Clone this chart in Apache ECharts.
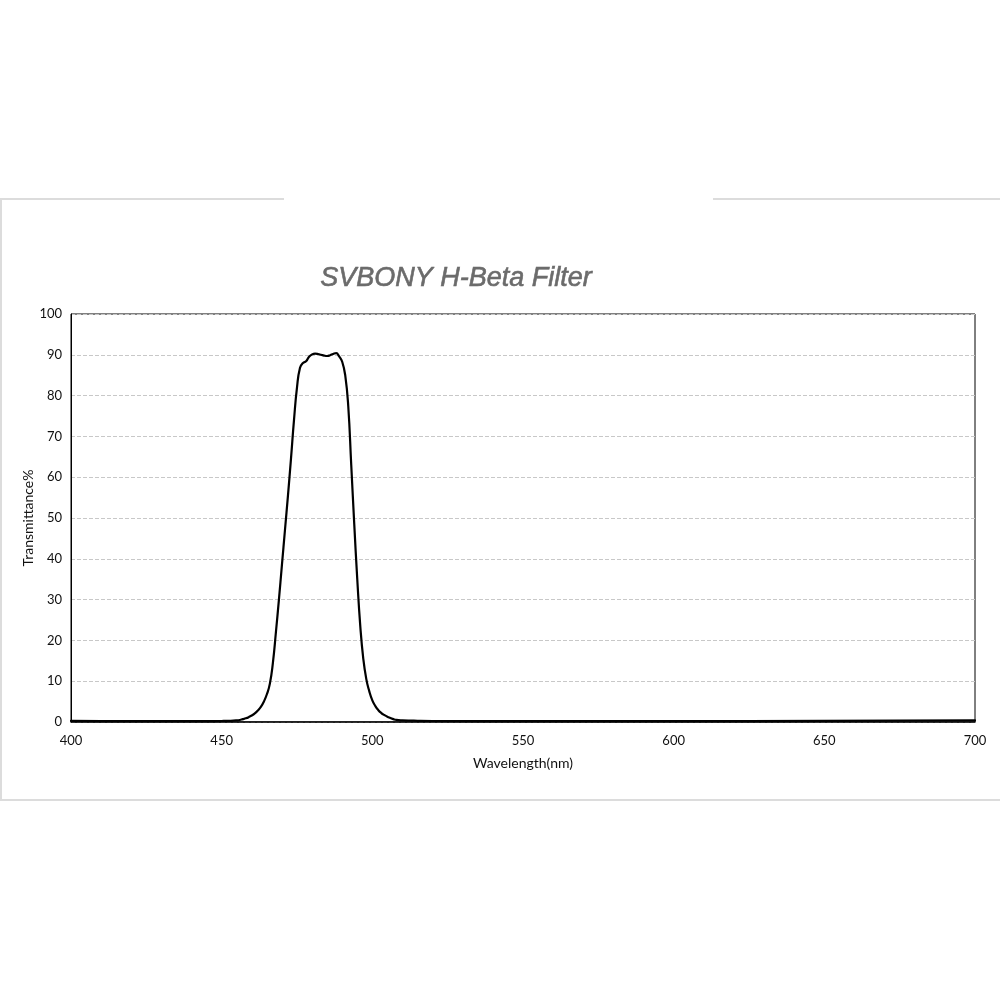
<!DOCTYPE html>
<html>
<head>
<meta charset="utf-8">
<script src="https://cdn.jsdelivr.net/npm/echarts@6/dist/echarts.min.js"></script>
<style>html,body{margin:0;padding:0;background:#fff}#c{width:1000px;height:1000px}</style>
</head>
<body>
<div id="c"></div>
<script>
const titleText = 'SVBONY H-Beta Filter';
const xName = 'Wavelength(nm)';
const yName = 'Transmittance%';
const wavelengths = [400,420,440,450,453,455,456,457,458,459,460,461,462,463,464,465,466,467,468,469,470,471,472,473,474,475,476,477,478,479,480,481,482,483,484,485,486,487,488,489,490,491,492,493,494,495,496,497,498,499,500,501,502,503,504,505,506,507,508,510,515,520,550,600,650,700];
const transmittance = [0.3,0.2,0.2,0.25,0.3,0.4,0.5,0.7,0.9,1.2,1.6,2.1,2.8,3.7,5.0,6.8,9.4,14.5,22,30,38.5,47,55.5,64.5,74,82,86.8,88,88.4,89.5,90.1,90.3,90.2,90.0,89.8,89.7,89.9,90.2,90.4,89.6,88.3,85,77.5,63,48.5,35,23.5,15.5,10.5,7.5,5.3,3.9,2.9,2.2,1.7,1.3,1.0,0.7,0.5,0.4,0.3,0.25,0.2,0.2,0.3,0.4];
const xTicks = [400,450,500,550,600,650,700];
const yTicks = [0,10,20,30,40,50,60,70,80,90,100];

const data = wavelengths.map((w,i)=>[w, transmittance[i]]);
const chart = echarts.init(document.getElementById('c'));
const labelFont = 'Lato, "Open Sans", sans-serif';
chart.setOption({
  animation:false,
  backgroundColor:'#fff',
  title:{text:titleText,left:451,top:260,textAlign:'center',
    textStyle:{fontFamily:'"Liberation Sans", Arial, sans-serif',fontStyle:'italic',fontWeight:'normal',fontSize:27,color:'#6b6b6b',
      textBorderColor:'#6b6b6b',textBorderWidth:0.6}},
  grid:{left:71,right:25,top:314,bottom:278,show:true,borderColor:'#000',borderWidth:1,backgroundColor:'transparent'},
  xAxis:{type:'value',min:xTicks[0],max:xTicks[xTicks.length-1],interval:50,
    name:xName,nameLocation:'middle',nameGap:34,nameMoveOverlap:false,
    nameTextStyle:{fontFamily:labelFont,fontSize:14,color:'#111'},
    axisLine:{show:true,lineStyle:{color:'#000',width:1.5}},axisTick:{show:false},
    axisLabel:{margin:12,fontFamily:labelFont,fontSize:13,color:'#111'},
    splitLine:{show:false}},
  yAxis:{type:'value',min:yTicks[0],max:yTicks[yTicks.length-1],interval:10,
    name:yName,nameLocation:'middle',nameGap:36,nameRotate:90,nameMoveOverlap:false,
    nameTextStyle:{fontFamily:labelFont,fontSize:14,color:'#111'},
    axisLine:{show:true,lineStyle:{color:'#000',width:1}},axisTick:{show:false},
    axisLabel:{margin:9,fontFamily:labelFont,fontSize:13,color:'#111'},
    splitLine:{show:true,lineStyle:{color:'#c8c8c8',type:'dashed',width:1}}},
  graphic:[
    {type:'line',shape:{x1:0,y1:199,x2:284,y2:199},style:{stroke:'#dcdcdc',lineWidth:2},silent:true},
    {type:'line',shape:{x1:713,y1:199,x2:1000,y2:199},style:{stroke:'#dcdcdc',lineWidth:2},silent:true},
    {type:'line',shape:{x1:1,y1:199,x2:1,y2:800},style:{stroke:'#dcdcdc',lineWidth:2},silent:true},
    {type:'line',shape:{x1:0,y1:800,x2:1000,y2:800},style:{stroke:'#dcdcdc',lineWidth:2},silent:true}
  ],
  series:[{type:'line',data:data,smooth:0.5,showSymbol:false,symbol:'none',
    lineStyle:{color:'#000',width:2.2,join:'round',cap:'round'},z:5}]
});
</script>
</body>
</html>
